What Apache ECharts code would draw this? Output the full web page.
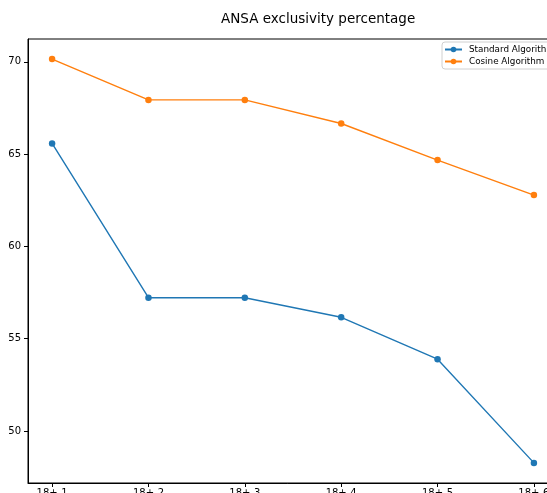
<!DOCTYPE html>
<html>
<head>
<meta charset="utf-8">
<script src="https://cdn.jsdelivr.net/npm/echarts@6/dist/echarts.min.js"></script>
<style>
  html, body { margin: 0; padding: 0; background: #fff; }
  #chart { width: 547px; height: 493px; }
</style>
</head>
<body>
<div id="chart"></div>
<script>
// Exclusivity percentage per setting, for two algorithms
const categories = ['18+-1', '18+-2', '18+-3', '18+-4', '18+-5', '18+-6'];
const standardValues = [65.58, 57.22, 57.22, 56.16, 53.89, 48.27];
const cosineValues = [70.15, 67.94, 67.94, 66.66, 64.68, 62.78];
const yTicks = [50, 55, 60, 65, 70];

const font = 'DejaVu Sans';
const xTicks = categories.map((_, i) => i);
const toPoints = vals => vals.map((v, i) => [i, v]);

const chart = echarts.init(document.getElementById('chart'), null, { renderer: 'canvas' });
chart.setOption({
  animation: false,
  backgroundColor: '#fff',
  title: {
    text: 'ANSA exclusivity percentage',
    left: 221,
    top: 12,
    padding: 0,
    textStyle: { fontFamily: font, fontSize: 13.5, fontWeight: 'normal', color: '#000' }
  },
  legend: {
    orient: 'vertical',
    left: 442,
    top: 42,
    padding: [3, 8, 3, 2],
    itemGap: 3,
    itemWidth: 17,
    itemHeight: 7,
    borderColor: '#d0d0d0',
    borderWidth: 1,
    borderRadius: 3,
    textStyle: { fontFamily: font, fontSize: 8.8, color: '#000', padding: [0, 0, 0, 2] },
    data: ['Standard Algorithm', 'Cosine Algorithm']
  },
  grid: {
    left: 28,
    top: 39,
    right: -11,
    bottom: 10,
    outerBoundsMode: 'none',
    show: true,
    borderColor: '#000',
    borderWidth: 1
  },
  xAxis: {
    type: 'value',
    min: -0.25,
    max: 5.25,
    splitLine: { show: false },
    axisLine: { show: true, onZero: false, lineStyle: { color: '#000', width: 1 } },
    axisTick: { show: true, customValues: xTicks, length: 4, lineStyle: { color: '#000' } },
    axisLabel: {
      customValues: xTicks,
      margin: 5,
      fontFamily: font,
      fontSize: 10,
      color: '#000',
      formatter: v => categories[Math.round(v)]
    }
  },
  yAxis: {
    type: 'value',
    min: 47.18,
    max: 71.24,
    splitLine: { show: false },
    axisLine: { show: true, onZero: false, lineStyle: { color: '#000', width: 1 } },
    axisTick: { show: true, customValues: yTicks, length: 4, lineStyle: { color: '#000' } },
    axisLabel: {
      customValues: yTicks,
      margin: 7,
      fontFamily: font,
      fontSize: 10,
      color: '#000'
    }
  },
  series: [
    {
      name: 'Standard Algorithm',
      type: 'line',
      data: toPoints(standardValues),
      symbol: 'circle',
      symbolSize: 6.5,
      color: '#1f77b4',
      lineStyle: { width: 1.4 },
      itemStyle: { color: '#1f77b4' }
    },
    {
      name: 'Cosine Algorithm',
      type: 'line',
      data: toPoints(cosineValues),
      symbol: 'circle',
      symbolSize: 6.5,
      color: '#ff7f0e',
      lineStyle: { width: 1.4 },
      itemStyle: { color: '#ff7f0e' }
    }
  ]
});
</script>
</body>
</html>
